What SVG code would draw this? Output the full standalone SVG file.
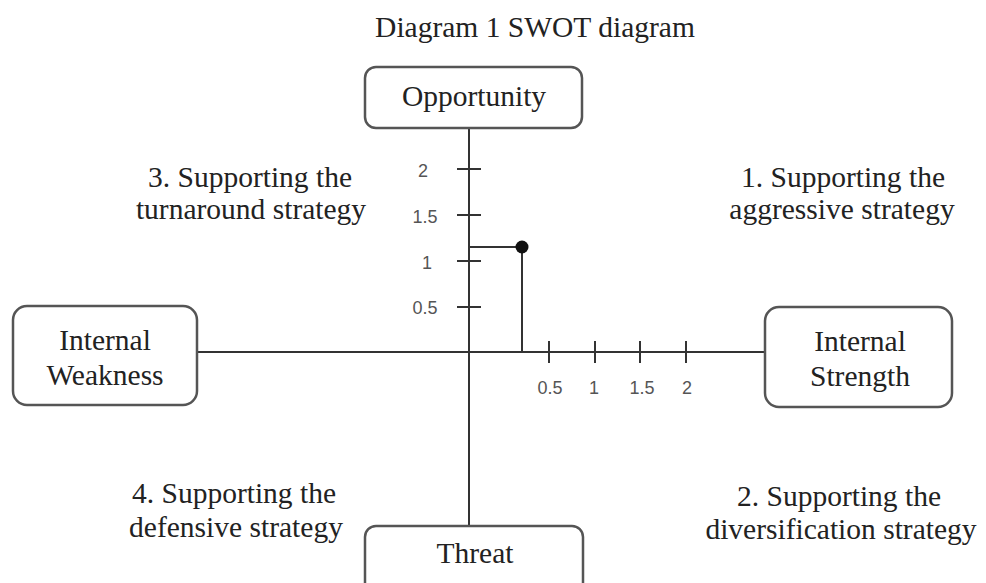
<svg xmlns="http://www.w3.org/2000/svg" width="986" height="583" viewBox="0 0 986 583">
  <style>
    .box { fill: #ffffff; stroke: #555555; stroke-width: 2.5; }
    .lbl { font-family: "Liberation Serif", "Times New Roman", serif; font-size: 29.5px; fill: #222222; text-anchor: middle; }
    .axis { stroke: #333333; stroke-width: 2; fill: none; }
    .tick { stroke: #333333; stroke-width: 2; }
    .num { font-family: "Liberation Sans", Arial, sans-serif; font-size: 18px; fill: #555555; text-anchor: middle; }
  </style>
  <rect width="986" height="583" fill="#ffffff"/>

  <text class="lbl" x="535" y="37">Diagram 1 SWOT diagram</text>

  <!-- axes, ticks and the plotted position -->
  <g id="connectors">
    <line class="axis" x1="469" y1="128" x2="469" y2="526"/>
    <line class="axis" x1="197" y1="352" x2="765" y2="352"/>
    <line class="tick" x1="457" y1="169" x2="481" y2="169"/>
    <line class="tick" x1="457" y1="215" x2="481" y2="215"/>
    <line class="tick" x1="457" y1="261" x2="481" y2="261"/>
    <line class="tick" x1="457" y1="307" x2="481" y2="307"/>
    <line class="tick" x1="549" y1="341" x2="549" y2="363"/>
    <line class="tick" x1="595" y1="341" x2="595" y2="363"/>
    <line class="tick" x1="640" y1="341" x2="640" y2="363"/>
    <line class="tick" x1="686" y1="341" x2="686" y2="363"/>
    <polyline class="axis" points="469,247 522,247 522,352"/>
    <circle cx="522" cy="247" r="6.5" fill="#111111"/>
  </g>

  <g id="scale-labels">
    <text class="num" x="423" y="177">2</text>
    <text class="num" x="425" y="223">1.5</text>
    <text class="num" x="427" y="269">1</text>
    <text class="num" x="425" y="314">0.5</text>
    <text class="num" x="550" y="394">0.5</text>
    <text class="num" x="594" y="394">1</text>
    <text class="num" x="642" y="394">1.5</text>
    <text class="num" x="687" y="394">2</text>
  </g>

  <g id="opportunity">
    <rect class="box" x="365" y="67" width="217" height="61" rx="11"/>
    <text class="lbl" x="474" y="106">Opportunity</text>
  </g>
  <g id="threat">
    <rect class="box" x="365" y="526" width="218" height="70" rx="11"/>
    <text class="lbl" x="475" y="563">Threat</text>
  </g>
  <g id="weakness">
    <rect class="box" x="13" y="306" width="184" height="99" rx="14"/>
    <text class="lbl" x="105" y="350">Internal</text>
    <text class="lbl" x="105" y="385">Weakness</text>
  </g>
  <g id="strength">
    <rect class="box" x="765" y="307" width="187" height="100" rx="14"/>
    <text class="lbl" x="860" y="351">Internal</text>
    <text class="lbl" x="860" y="386">Strength</text>
  </g>

  <g id="quadrant-aggressive">
    <text class="lbl" x="843" y="187">1. Supporting the</text>
    <text class="lbl" x="842" y="219">aggressive strategy</text>
  </g>
  <g id="quadrant-diversification">
    <text class="lbl" x="839" y="506">2. Supporting the</text>
    <text class="lbl" x="841" y="539">diversification strategy</text>
  </g>
  <g id="quadrant-turnaround">
    <text class="lbl" x="250" y="187">3. Supporting the</text>
    <text class="lbl" x="251" y="219">turnaround strategy</text>
  </g>
  <g id="quadrant-defensive">
    <text class="lbl" x="234" y="503">4. Supporting the</text>
    <text class="lbl" x="236" y="537">defensive strategy</text>
  </g>
</svg>
